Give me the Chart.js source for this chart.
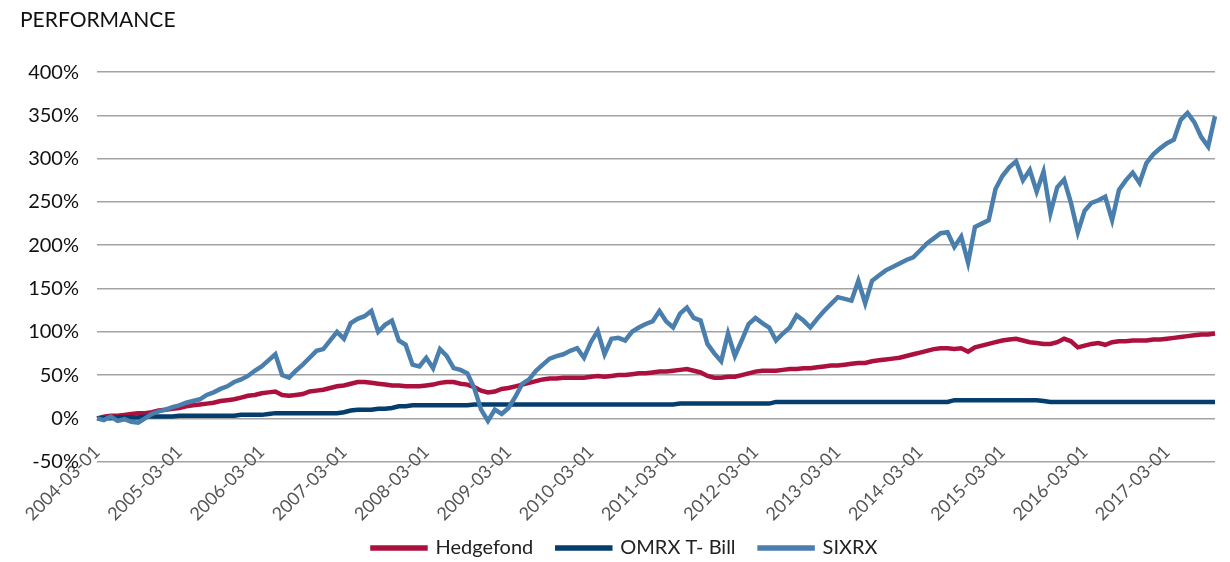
<!DOCTYPE html>
<html>
<head>
<meta charset="utf-8">
<script src="https://cdn.jsdelivr.net/npm/chart.js"></script>
<style>
  body { margin: 0; background: #fff; }
  #wrap { width: 1230px; height: 562px; }
</style>
</head>
<body>
<div id="wrap"><canvas id="myChart"></canvas></div>
<script>
// monthly points, 2004-03 .. 2017-10
const startYear = 2004
const startMonth = 3
const nMonths = 164

const hedgefond = [
    0, 2, 3, 3, 4, 5, 6, 6, 7, 9, 10, 11,
    12, 14, 15, 16, 17, 18, 20, 21, 22, 24, 26, 27,
    29, 30, 31, 27, 26, 27, 28, 31, 32, 33, 35, 37,
    38, 40, 42, 42, 41, 40, 39, 38, 38, 37, 37, 37,
    38, 39, 41, 42, 42, 40, 39, 36, 32, 30, 31, 34,
    35, 37, 39, 41, 43, 45, 46, 46, 47, 47, 47, 47,
    48, 49, 48, 49, 50, 50, 51, 52, 52, 53, 54, 54,
    55, 56, 57, 55, 53, 49, 47, 47, 48, 48, 50, 52,
    54, 55, 55, 55, 56, 57, 57, 58, 58, 59, 60, 61,
    61, 62, 63, 64, 64, 66, 67, 68, 69, 70, 72, 74,
    76, 78, 80, 81, 81, 80, 81, 77, 82, 84, 86, 88,
    90, 91, 92, 90, 88, 87, 86, 86, 88, 92, 89, 82,
    84, 86, 87, 85, 88, 89, 89, 90, 90, 90, 91, 91,
    92, 93, 94, 95, 96, 97, 97, 98
]

const omrxTBill = [
    0, 0, 0, 1, 1, 1, 1, 2, 2, 2, 2, 2,
    3, 3, 3, 3, 3, 3, 3, 3, 3, 4, 4, 4,
    4, 5, 6, 6, 6, 6, 6, 6, 6, 6, 6, 6,
    7, 9, 10, 10, 10, 11, 11, 12, 14, 14, 15, 15,
    15, 15, 15, 15, 15, 15, 15, 16, 16, 16, 16, 16,
    16, 16, 16, 16, 16, 16, 16, 16, 16, 16, 16, 16,
    16, 16, 16, 16, 16, 16, 16, 16, 16, 16, 16, 16,
    16, 17, 17, 17, 17, 17, 17, 17, 17, 17, 17, 17,
    17, 17, 17, 19, 19, 19, 19, 19, 19, 19, 19, 19,
    19, 19, 19, 19, 19, 19, 19, 19, 19, 19, 19, 19,
    19, 19, 19, 19, 19, 21, 21, 21, 21, 21, 21, 21,
    21, 21, 21, 21, 21, 21, 20, 19, 19, 19, 19, 19,
    19, 19, 19, 19, 19, 19, 19, 19, 19, 19, 19, 19,
    19, 19, 19, 19, 19, 19, 19, 19
]

const sixrx = [
    0, -2, 2, -3, -1, -4, -5, 0, 5, 8, 10, 13,
    15, 18, 20, 22, 27, 30, 34, 37, 42, 45, 49, 55,
    60, 67, 74, 50, 47, 55, 62, 70, 78, 80, 90, 100,
    92, 110, 115, 118, 124, 100, 108, 113, 90, 85, 62, 60,
    70, 58, 80, 72, 58, 56, 52, 35, 10, -3, 10, 5,
    12, 25, 40, 45, 55, 62, 69, 72, 74, 78, 81, 70,
    88, 101, 74, 92, 93, 90, 100, 105, 109, 112, 124, 112,
    105, 121, 128, 116, 113, 86, 75, 66, 98, 72, 90, 109,
    116, 110, 105, 90, 98, 105, 119, 113, 105, 115, 124, 132,
    140, 138, 136, 159, 133, 159, 165, 171, 175, 179, 183, 186,
    194, 202, 208, 214, 215, 198, 210, 180, 221, 225, 229, 265,
    280, 290, 297, 275, 287, 262, 285, 237, 267, 276, 249, 215,
    240, 249, 252, 256, 229, 264, 275, 284, 272, 295, 305, 312,
    318, 322, 345, 353, 342, 325, 314, 349
]

const yTicks = { min: -50, max: 400, step: 50 }

const months = []
for (let i = 0; i < nMonths; i++) {
    const t = startMonth - 1 + i
    const y = startYear + Math.floor(t / 12)
    const m = (t % 12) + 1
    months.push(y + '-' + String(m).padStart(2, '0') + '-01')
}

const FONT = 'Lato, "Open Sans", sans-serif'

const ctx = document.getElementById('myChart')
const myChart = new Chart(ctx, {
    type: 'line',
    data: {
        labels: months,
        datasets: [{
            label: 'Hedgefond',
            data: hedgefond,
            borderColor: '#AC103D',
            backgroundColor: '#AC103D',
            order: 3
        }, {
            label: 'OMRX T- Bill',
            data: omrxTBill,
            borderColor: '#053D6C',
            backgroundColor: '#053D6C',
            order: 2
        }, {
            label: 'SIXRX',
            data: sixrx,
            borderColor: '#4A7EAD',
            backgroundColor: '#4A7EAD',
            order: 1
        }]
    },
    options: {
        responsive: true,
        maintainAspectRatio: false,
        animation: false,
        elements: {
            point: { radius: 0 },
            line: { borderWidth: 4.5, tension: 0 }
        },
        layout: { padding: { left: 20, right: 0, top: 0, bottom: -6 } },
        plugins: {
            tooltip: { enabled: false },
            title: {
                display: true,
                text: 'PERFORMANCE',
                align: 'start',
                color: '#111',
                font: { family: FONT, size: 21, weight: 'normal' },
                padding: { top: 8, bottom: 39 }
            },
            legend: {
                position: 'bottom',
                reverse: true,
                title: { display: true, text: ' ', padding: 19, font: { size: 12 } },
                labels: {
                    boxWidth: 53,
                    boxHeight: 1,
                    padding: 24,
                    color: '#222',
                    font: { family: FONT, size: 20 }
                }
            }
        },
        scales: {
            x: {
                position: { y: 0 },
                grid: { display: false },
                border: { display: false },
                afterFit: (scale) => { scale.paddingLeft = 0; scale.paddingRight = 15 },
                ticks: {
                    autoSkip: false,
                    minRotation: 45,
                    maxRotation: 45,
                    padding: 15,
                    color: '#555',
                    font: { family: FONT, size: 18 },
                    callback: function (value) {
                        const l = this.getLabelForValue(value)
                        return l.slice(5, 7) === '03' ? l : ''
                    }
                }
            },
            y: {
                min: yTicks.min,
                max: yTicks.max,
                afterFit: (scale) => { scale.width = 77 },
                grid: { color: '#a3a3a3', lineWidth: 1.6, drawTicks: false },
                border: { display: false },
                ticks: {
                    stepSize: yTicks.step,
                    padding: 18,
                    color: '#111',
                    font: { family: FONT, size: 20 },
                    callback: (v) => v + '%'
                }
            }
        }
    }
})
</script>
</body>
</html>
